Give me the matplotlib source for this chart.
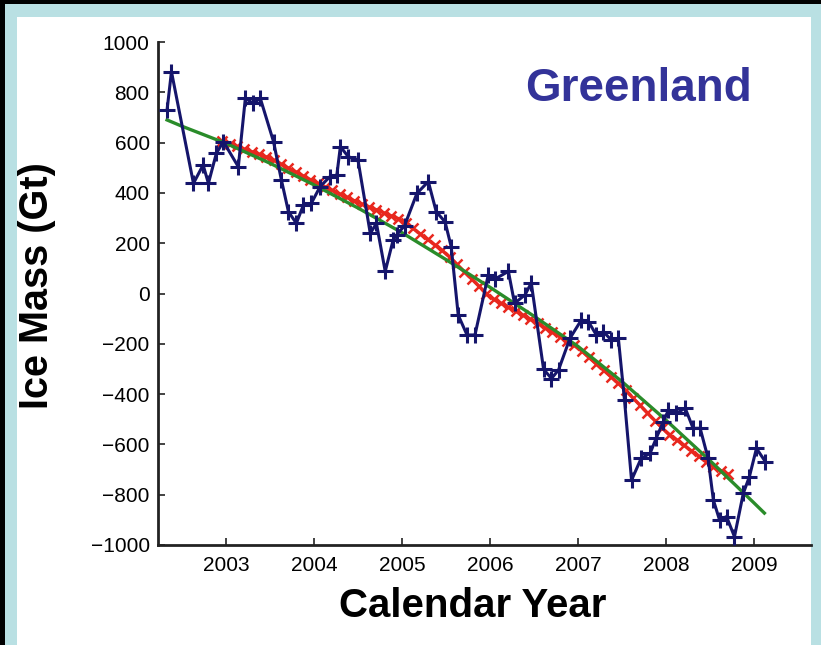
import matplotlib
matplotlib.use("Agg")
import matplotlib.pyplot as plt
from matplotlib.patches import Rectangle
import numpy as np

# ---- data ----
blue_years = [2002.33, 2002.38, 2002.63, 2002.74, 2002.80, 2002.89, 2002.97, 2003.14,
              2003.22, 2003.31, 2003.39, 2003.54, 2003.63, 2003.71, 2003.80, 2003.88,
              2003.97, 2004.07, 2004.18, 2004.26, 2004.30, 2004.39, 2004.50, 2004.64,
              2004.71, 2004.81, 2004.90, 2004.94, 2005.03, 2005.17, 2005.30, 2005.39,
              2005.49, 2005.56, 2005.64, 2005.74, 2005.83, 2005.98, 2006.06, 2006.21,
              2006.28, 2006.40, 2006.47, 2006.61, 2006.70, 2006.78, 2006.91, 2007.04,
              2007.12, 2007.21, 2007.29, 2007.38, 2007.46, 2007.53, 2007.61, 2007.72,
              2007.82, 2007.89, 2007.97, 2008.03, 2008.12, 2008.22, 2008.31, 2008.39,
              2008.48, 2008.54, 2008.61, 2008.69, 2008.78, 2008.88, 2008.95, 2009.03,
              2009.13]
blue_mass = [730, 882, 438, 511, 438, 557, 604, 504,
             776, 756, 776, 604, 451, 325, 279, 352,
             359, 425, 464, 471, 584, 544, 531, 239,
             279, 88, 213, 233, 270, 398, 445, 325,
             285, 186, -86, -165, -165, 72, 58, 88,
             -39, -5, 42, -301, -338, -304, -178, -105,
             -112, -165, -152, -185, -178, -424, -742, -655,
             -636, -576, -510, -463, -476, -456, -536, -536,
             -655, -821, -900, -887, -967, -795, -728, -616,
             -668]

red_start, red_step = 2002.958, 1.0 / 12.0
red_mass = [605, 595, 585, 574, 564, 554, 543, 530, 515, 499, 484, 468,
            453, 438, 424, 410, 396, 383, 369, 356, 344, 333, 321, 309,
            298, 281, 259, 237, 215, 193, 171, 145, 116, 87, 58, 29,
            0, -23, -39, -55, -70, -86, -102, -119, -136, -154, -171, -189,
            -206, -228, -254, -280, -305, -331, -357, -385, -415, -445, -475, -505,
            -535, -561, -582, -604, -626, -647, -669, -689, -704, -718]
red_years = [red_start + i * red_step for i in range(len(red_mass))]

green_years = [2002.33, 2002.5, 2003.0, 2003.5, 2004.0, 2004.5, 2005.0, 2005.5,
               2006.0, 2006.5, 2007.0, 2007.5, 2008.0, 2008.5, 2009.0, 2009.12]
green_mass = [690, 665, 597, 518, 432, 340, 242, 135,
              25, -90, -210, -350, -503, -664, -832, -873]

x_ticks = [2003, 2004, 2005, 2006, 2007, 2008, 2009]
y_ticks = [1000, 800, 600, 400, 200, 0, -200, -400, -600, -800, -1000]

# ---- figure ----
W, H = 821, 645
fig = plt.figure(figsize=(W / 100, H / 100), dpi=100, facecolor="black")
fig.patches.append(Rectangle((5 / W, 0), 1 - 5 / W, 641 / H, transform=fig.transFigure,
                             facecolor="#b9e0e3", edgecolor="none", zorder=-2))
fig.patches.append(Rectangle((17 / W, 0), (811 - 17) / W, 628 / H, transform=fig.transFigure,
                             facecolor="white", edgecolor="none", zorder=-1))

ax = fig.add_axes([158 / W, (H - 545) / H, (811 - 158) / W, (545 - 42) / H])
ax.set_facecolor("none")

ax.plot(red_years, red_mass, color="#e8281e", lw=2.4, marker="x", ms=6.5, mew=1.8, zorder=2)
ax.plot(green_years, green_mass, color="#2a8c2a", lw=2.4, zorder=3)
ax.plot(blue_years, blue_mass, color="#15156b", lw=2.2, marker="+", ms=12, mew=2.2, zorder=4)

ax.set_xlim(2002.227, 2009.65)
ax.set_ylim(-1000, 1000)
ax.set_xticks(x_ticks)
ax.set_yticks(y_ticks)
ax.set_yticklabels([str(v).replace("-", "\u2212") for v in y_ticks])

for s in ["top", "right"]:
    ax.spines[s].set_visible(False)
for s in ["left", "bottom"]:
    ax.spines[s].set_linewidth(2.0)
    ax.spines[s].set_color("#222222")

ax.tick_params(direction="in", length=5, width=1.2, color="#222222",
               labelsize=15, labelcolor="black")
ax.tick_params(axis="x", pad=8)
ax.tick_params(axis="y", pad=6)
for lab in ax.get_xticklabels() + ax.get_yticklabels():
    lab.set_family("Liberation Sans")

fig.text(37 / W, 1 - 286 / H, "Ice Mass (Gt)", rotation=90, ha="center", va="center",
         fontsize=28.5, fontweight="bold", family="Liberation Sans", color="black")
fig.text(473 / W, 1 - 606 / H, "Calendar Year", ha="center", va="center",
         fontsize=29, fontweight="bold", family="Liberation Sans", color="black")
fig.text(638 / W, 1 - 89 / H, "Greenland", ha="center", va="center",
         fontsize=33, fontweight="bold", family="Liberation Sans", color="#333399")

fig.savefig("out.png", dpi=100, facecolor=fig.get_facecolor())
